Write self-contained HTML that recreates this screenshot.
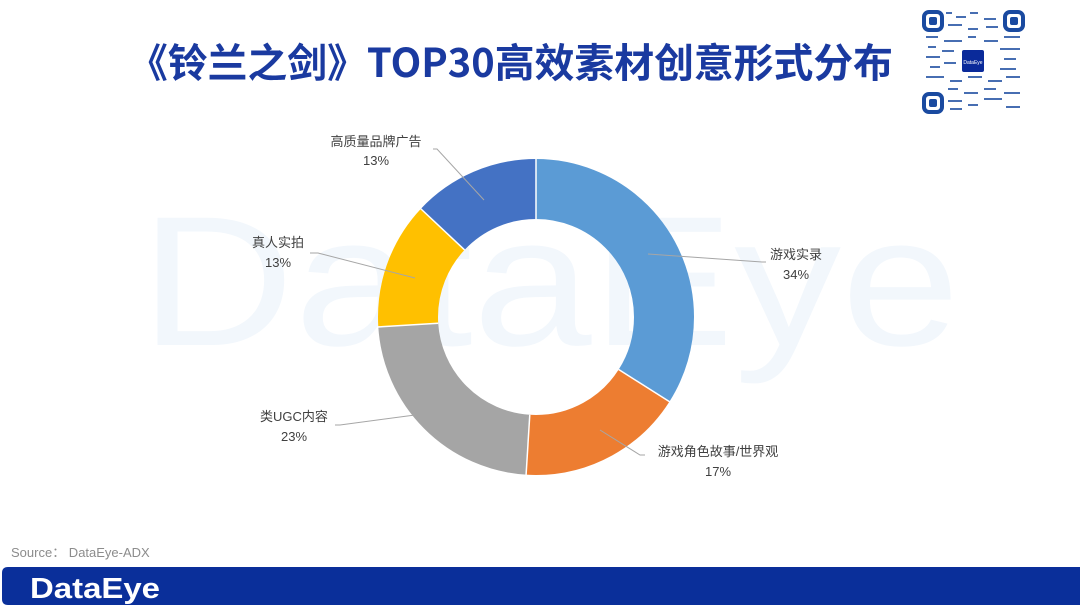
<!DOCTYPE html>
<html><head><meta charset="utf-8"><style>
html,body{margin:0;padding:0;background:#fff;}
svg{display:block;}
text{font-family:"Liberation Sans","Noto Sans CJK SC",sans-serif;}
</style></head><body>
<svg width="1080" height="608" viewBox="0 0 1080 608" xmlns="http://www.w3.org/2000/svg">
<!-- watermark -->
<text x="140" y="345" font-size="185" fill="#f2f7fc" textLength="820" lengthAdjust="spacingAndGlyphs">DataEye</text>
<!-- title -->
<text x="128" y="77" font-size="40" font-weight="bold" fill="#1a3aa0" textLength="765" lengthAdjust="spacingAndGlyphs" style="font-family:'Noto Sans CJK SC',sans-serif">《铃兰之剑》TOP30高效素材创意形式分布</text>
<!-- QR -->
<g fill="#1a4aa0">
<rect x="922" y="10" width="102" height="102" fill="#fff"/>
<rect x="924" y="12" width="18" height="18" rx="5" fill="none" stroke="#1a4aa0" stroke-width="4"/>
<rect x="929" y="17" width="8" height="8" rx="2"/>
<rect x="1005" y="12" width="18" height="18" rx="5" fill="none" stroke="#1a4aa0" stroke-width="4"/>
<rect x="1010" y="17" width="8" height="8" rx="2"/>
<rect x="924" y="94" width="18" height="18" rx="5" fill="none" stroke="#1a4aa0" stroke-width="4"/>
<rect x="929" y="99" width="8" height="8" rx="2"/>
<g opacity="0.8">
<rect x="946" y="12" width="6" height="2"/><rect x="956" y="16" width="10" height="2"/><rect x="970" y="12" width="8" height="2"/><rect x="984" y="18" width="12" height="2"/><rect x="948" y="24" width="14" height="2"/><rect x="968" y="28" width="10" height="2"/><rect x="986" y="26" width="12" height="2"/>
<rect x="926" y="36" width="12" height="2"/><rect x="944" y="40" width="18" height="2"/><rect x="968" y="36" width="8" height="2"/><rect x="984" y="40" width="14" height="2"/><rect x="1004" y="36" width="16" height="2"/>
<rect x="928" y="46" width="8" height="2"/><rect x="942" y="50" width="12" height="2"/><rect x="1000" y="48" width="20" height="2"/><rect x="926" y="56" width="14" height="2"/><rect x="1004" y="58" width="12" height="2"/>
<rect x="930" y="66" width="10" height="2"/><rect x="944" y="62" width="12" height="2"/><rect x="1000" y="68" width="16" height="2"/><rect x="926" y="76" width="18" height="2"/><rect x="950" y="80" width="12" height="2"/><rect x="968" y="76" width="14" height="2"/><rect x="988" y="80" width="14" height="2"/><rect x="1006" y="76" width="14" height="2"/>
<rect x="948" y="88" width="10" height="2"/><rect x="964" y="92" width="14" height="2"/><rect x="984" y="88" width="12" height="2"/><rect x="1004" y="92" width="16" height="2"/><rect x="948" y="100" width="14" height="2"/><rect x="968" y="104" width="10" height="2"/><rect x="984" y="98" width="18" height="2"/><rect x="1006" y="106" width="14" height="2"/><rect x="950" y="108" width="12" height="2"/>
</g>
<rect x="962" y="50" width="22" height="22" rx="2" fill="#0a2a9a"/>
<text x="973" y="64" font-size="5" fill="#fff" text-anchor="middle">DataEye</text>
</g>
<!-- donut -->
<g transform="translate(536,317) rotate(-90)" fill="none" stroke-width="60">
<circle r="128" stroke="#5b9bd5" stroke-dasharray="273.4 1000" stroke-dashoffset="0"/>
<circle r="128" stroke="#ed7d31" stroke-dasharray="136.7 1000" stroke-dashoffset="-273.4"/>
<circle r="128" stroke="#a5a5a5" stroke-dasharray="185 1000" stroke-dashoffset="-410.2"/>
<circle r="128" stroke="#ffc000" stroke-dasharray="104.6 1000" stroke-dashoffset="-595.1"/>
<circle r="128" stroke="#4472c4" stroke-dasharray="104.6 1000" stroke-dashoffset="-699.7"/>
</g>
<g stroke="#fff" stroke-width="1.5">
<line x1="536" y1="219" x2="536" y2="158"/>
<line x1="618.7" y1="369.5" x2="670" y2="402"/>
<line x1="529.8" y1="414.8" x2="526" y2="476"/>
<line x1="438.2" y1="323.2" x2="377" y2="327"/>
<line x1="464.6" y1="249.9" x2="420" y2="208"/>
</g>
<!-- leaders -->
<g stroke="#a6a6a6" stroke-width="1" fill="none">
<polyline points="648,254 762,262 766,262"/>
<polyline points="600,430 640,455 645,455"/>
<polyline points="335,425 340,425 415,415"/>
<polyline points="310,253 318,253 415,278"/>
<polyline points="433,149 437,149 484,200"/>
</g>
<g font-size="13" fill="#404040" text-anchor="middle">
<text x="796" y="259">游戏实录</text><text x="796" y="279">34%</text>
<text x="718" y="456">游戏角色故事/世界观</text><text x="718" y="476">17%</text>
<text x="294" y="421">类UGC内容</text><text x="294" y="441">23%</text>
<text x="278" y="247">真人实拍</text><text x="278" y="267">13%</text>
<text x="376" y="146">高质量品牌广告</text><text x="376" y="165">13%</text>
</g>
<!-- footer -->
<text x="11" y="557" font-size="13" fill="#8c8c8c">Source：  DataEye-ADX</text>
<path d="M8,567 H1080 V605 H8 Q2,605 2,599 V573 Q2,567 8,567 Z" fill="#0a2f9a"/>
<text x="30" y="598" font-size="29" font-weight="bold" fill="#fff" textLength="130" lengthAdjust="spacingAndGlyphs">DataEye</text>
</svg>
</body></html>
